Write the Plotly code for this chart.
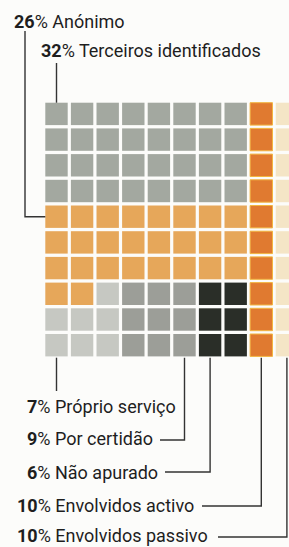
import plotly.graph_objects as go

# ---- data ----
codes = ["A", "T", "S", "C", "N", "E", "P"]
categories = ["Anónimo", "Terceiros identificados", "Próprio serviço", "Por certidão",
              "Não apurado", "Envolvidos activo", "Envolvidos passivo"]
percents = [26, 32, 7, 9, 6, 10, 10]
colors = ["#e6a75a", "#a3a8a0", "#c6c8c2", "#9c9e98", "#2a2e28", "#e07a30", "#f4e5c6"]

# waffle map (10 x 10), one letter per cell
grid_rows = [
    "TTTTTTTTEP",
    "TTTTTTTTEP",
    "TTTTTTTTEP",
    "TTTTTTTTEP",
    "AAAAAAAAEP",
    "AAAAAAAAEP",
    "AAAAAAAAEP",
    "AASCCCNNEP",
    "SSSCCCNNEP",
    "SSSCCCNNEP",
]

# ---- geometry (pixels) ----
W, H = 289, 547
X0, PX = 56.5, 25.6   # pixel centre of column 0, column pitch
Y0, PY = 113.9, 25.7  # pixel centre of row 0, row pitch
CELL = 22.4


def dx(p):
    return (p - X0) / PX


def dy(p):
    return (p - Y0) / PY


fig = go.Figure()
for code, name, col in zip(codes, categories, colors):
    xs, ys = [], []
    for r, row in enumerate(grid_rows):
        for c, ch in enumerate(row):
            if ch == code:
                xs.append(c)
                ys.append(r)
    line = dict(width=1, color="#f2b640") if code == "E" else dict(width=0)
    fig.add_trace(go.Scatter(
        x=xs, y=ys, mode="markers", name=name, cliponaxis=True,
        marker=dict(symbol="square", size=CELL, color=col, line=line),
        hoverinfo="name",
    ))

FONT = "Roboto"
TXT = "#1e1e1e"
LC = "#333333"
LW = 1.4

# label positions (pixels): left x, centre y
label_pos = {
    "A": (12, 21.5),
    "T": (39, 50),
    "S": (25, 406.5),
    "C": (25, 438.5),
    "N": (25, 472.5),
    "E": (15, 505),
    "P": (15, 535.5),
}
for code, name, pct in zip(codes, categories, percents):
    lx, ly = label_pos[code]
    fig.add_annotation(
        x=dx(lx), y=dy(ly), xref="x", yref="y", xanchor="left", yanchor="middle",
        text=f"<b>{pct}</b>% {name}", showarrow=False,
        font=dict(family=FONT, size=18, color=TXT),
    )

top_edge = 0 - CELL / 2 / PY
bottom_edge = (len(grid_rows) - 1) + CELL / 2 / PY


def add_line(pts):
    path = "M " + " L ".join(f"{x},{y}" for x, y in pts)
    fig.add_shape(type="path", path=path, xref="x", yref="y",
                  line=dict(color=LC, width=LW))


# Anónimo: vertical at x=25 from under label to row 4, then right to grid edge
add_line([(dx(25), dy(31)), (dx(25), 4), (0 - CELL / 2 / PX, 4)])
# Terceiros: vertical at column 0 from under label to grid top
add_line([(0, dy(63)), (0, top_edge)])
# Próprio serviço: column 0 down from grid bottom
add_line([(0, bottom_edge + 0.05), (0, dy(391))])
# Por certidão: column 5
add_line([(5, bottom_edge + 0.05), (5, dy(440)), (dx(160), dy(440))])
# Não apurado: column 6
add_line([(6, bottom_edge + 0.05), (6, dy(472)), (dx(165), dy(472))])
# Envolvidos activo: column 8
add_line([(8, bottom_edge + 0.05), (8, dy(506)), (dx(202), dy(506))])
# Envolvidos passivo: column 9
add_line([(9, bottom_edge + 0.05), (9, dy(537)), (dx(218), dy(537))])

fig.update_layout(
    width=W, height=H,
    margin=dict(l=0, r=0, t=0, b=0),
    paper_bgcolor="#fcfcfa", plot_bgcolor="#fcfcfa",
    showlegend=False,
    xaxis=dict(range=[dx(0), dx(W)], visible=False, fixedrange=True),
    yaxis=dict(range=[dy(H), dy(0)], visible=False, fixedrange=True),
)

fig.write_html(
    "out.html",
    config={"displayModeBar": False},
    post_script="document.body.style.margin='0';document.body.style.overflow='hidden';",
)
